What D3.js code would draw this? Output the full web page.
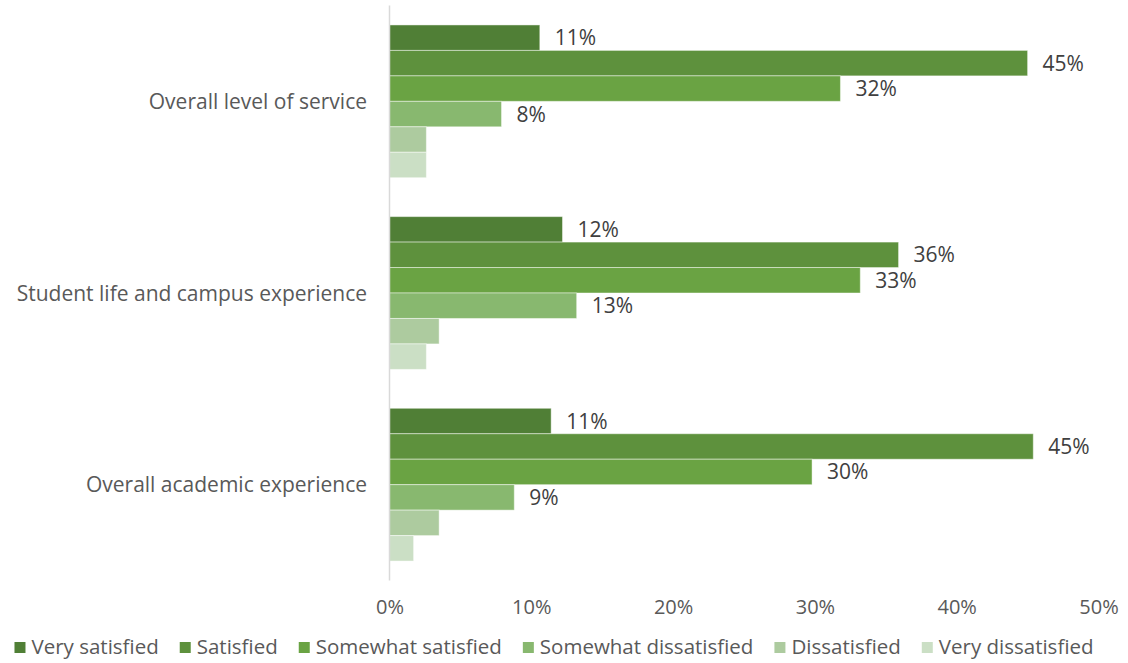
<!DOCTYPE html>
<html>
<head>
<meta charset="utf-8">
<script src="https://cdn.jsdelivr.net/npm/d3@7"></script>
<style>
  html, body { margin: 0; padding: 0; background: #fff; }
  svg { display: block; }
  text { font-family: "Open Sans", sans-serif; fill: #595959; }
</style>
</head>
<body>
<svg id="chart" width="1128" height="663"></svg>
<script>
// Survey satisfaction by area (share of respondents, %)
const categories = [
  "Overall level of service",
  "Student life and campus experience",
  "Overall academic experience"
];
const seriesNames = [
  "Very satisfied",
  "Satisfied",
  "Somewhat satisfied",
  "Somewhat dissatisfied",
  "Dissatisfied",
  "Very dissatisfied"
];
const verySatisfied        = [10.6, 12.2, 11.4];
const satisfied            = [45.0, 35.9, 45.4];
const somewhatSatisfied    = [31.8, 33.2, 29.8];
const somewhatDissatisfied = [7.9, 13.2, 8.8];
const dissatisfied         = [2.6, 3.5, 3.5];
const veryDissatisfied     = [2.6, 2.6, 1.7];
const xTicks = [0, 10, 20, 30, 40, 50];
// only the first four series carry value labels
const labelled = [true, true, true, true, false, false];

const seriesValues = [verySatisfied, satisfied, somewhatSatisfied,
                      somewhatDissatisfied, dissatisfied, veryDissatisfied];
const colors = ["#507f36", "#5e913d", "#6aa343", "#88b86f", "#adcb9f", "#cbdfc5"];

const svg = d3.select("#chart");
const margin = { left: 389.5, right: 30, top: 5.5, bottom: 82.5 };
const W = 1128, H = 663;
const FONT = 21;

const x = d3.scaleLinear().domain([0, 50]).range([margin.left, margin.left + 709]);
const y0 = d3.scaleBand().domain(categories)
  .range([margin.top, H - margin.bottom])
  .paddingInner(0.203).paddingOuter(0.1015);
const y1 = d3.scaleBand().domain(seriesNames).range([0, y0.bandwidth()]);

const rows = categories.map((c, i) => ({
  cat: c,
  vals: seriesNames.map((s, j) => ({ s, j, v: seriesValues[j][i] }))
}));

const groups = svg.append("g").selectAll("g").data(rows).join("g")
  .attr("transform", d => `translate(0,${y0(d.cat)})`);

groups.selectAll("rect").data(d => d.vals).join("rect")
  .attr("x", x(0))
  .attr("y", d => y1(d.s))
  .attr("width", d => x(d.v) - x(0))
  .attr("height", y1.bandwidth())
  .attr("fill", d => colors[d.j])
  .attr("stroke", "rgba(255,255,255,0.45)")
  .attr("stroke-width", 1);

groups.selectAll("text.val").data(d => d.vals.filter(v => labelled[v.j])).join("text")
  .attr("class", "val")
  .attr("x", d => x(d.v) + 15)
  .attr("y", d => y1(d.s) + y1.bandwidth() / 2)
  .attr("dy", "0.36em")
  .attr("font-size", FONT)
  .style("fill", "#404040")
  .text(d => Math.round(d.v) + "%");

// vertical category axis line
svg.append("line")
  .attr("x1", x(0)).attr("x2", x(0))
  .attr("y1", margin.top).attr("y2", H - margin.bottom)
  .attr("stroke", "#d9d9d9").attr("stroke-width", 1.5);

// category labels
svg.append("g").selectAll("text").data(categories).join("text")
  .attr("x", 367)
  .attr("y", d => y0(d) + y0.bandwidth() / 2)
  .attr("dy", "0.36em")
  .attr("text-anchor", "end")
  .attr("font-size", FONT)
  .text(d => d);

// value axis (labels only)
const xAxis = d3.axisBottom(x).tickValues(xTicks).tickFormat(d => d + "%").tickSize(0);
const gx = svg.append("g").attr("transform", `translate(0,${597})`).call(xAxis);
gx.select(".domain").remove();
gx.selectAll("text").attr("font-size", 20).attr("font-family", "'Open Sans', sans-serif").style("fill", "#595959");

// legend, centred under the chart
const legend = svg.append("g");
const items = legend.selectAll("g").data(seriesNames).join("g");
items.append("rect").attr("width", 11).attr("height", 11).attr("y", -5)
  .attr("fill", (d, i) => colors[i]);
items.append("text").attr("x", 17).attr("dy", "0.36em").attr("font-size", 20.5).text(d => d);
let cx = 0;
const gap = 21;
items.each(function() {
  const w = this.getBBox().width;
  d3.select(this).attr("transform", `translate(${cx},0)`);
  cx += w + gap;
});
const total = cx - gap;
legend.attr("transform", `translate(${(8 + 1100) / 2 - total / 2},647)`);
</script>
</body>
</html>
